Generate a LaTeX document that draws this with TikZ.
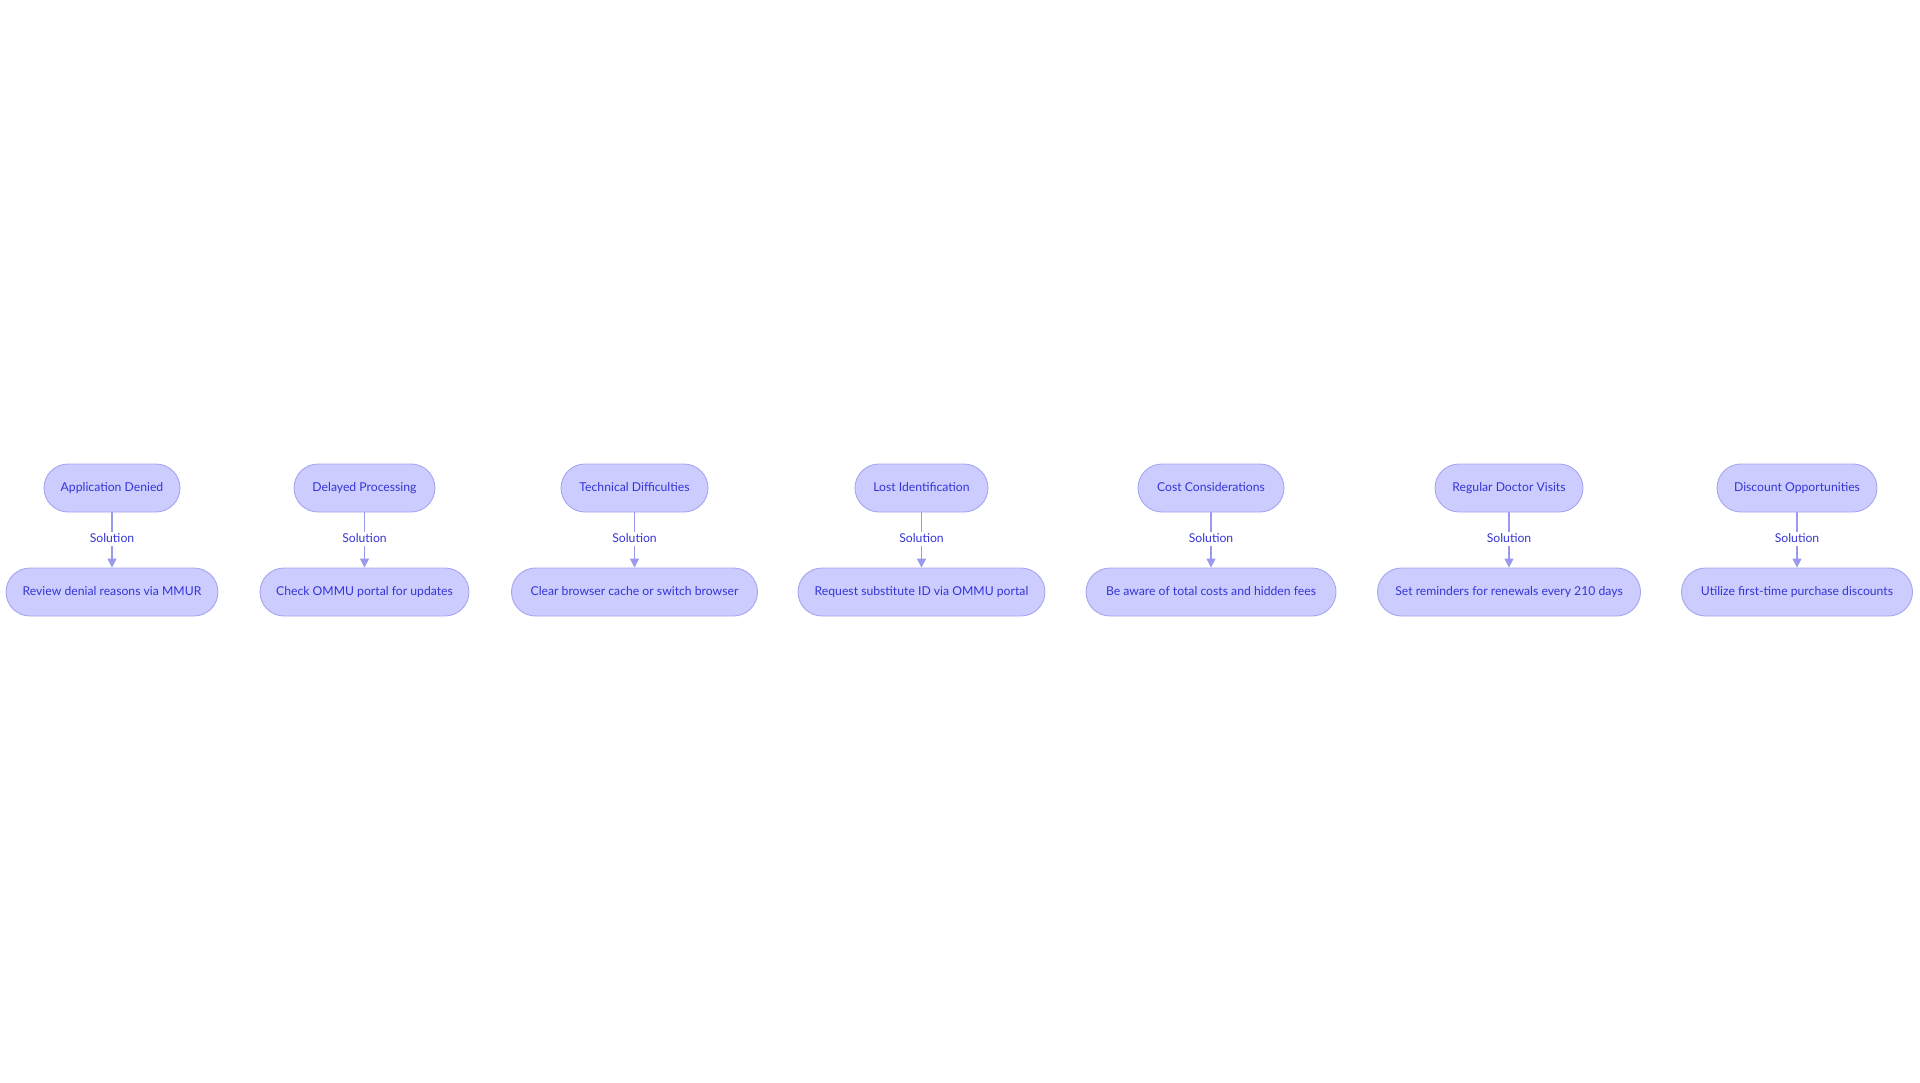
\documentclass[tikz,border=0pt]{standalone}
\usepackage{fontspec}
\setmainfont{Lato}
\usetikzlibrary{arrows.meta}
\definecolor{nodefill}{HTML}{CCCCFF}
\definecolor{nodeline}{HTML}{A6A6F2}
\definecolor{nodetext}{HTML}{3535D6}
\definecolor{edgecol}{HTML}{9A9AEC}
\tikzset{
  pill/.style={draw=nodeline, line width=0.9pt, fill=nodefill, rounded corners=24pt,
    minimum height=48pt, inner sep=0pt, text=nodetext, text height=8.8pt, text depth=2.6pt,
    font=\fontsize{12.2}{14}\selectfont},
  lbl/.style={fill=white, text=nodetext, inner sep=1.5pt, text height=8.8pt, text depth=2.6pt,
    font=\fontsize{12.2}{14}\selectfont},
  conn/.style={draw=edgecol, line width=1.5pt, -{Triangle[width=9pt,length=9pt]}},
}
\begin{document}
\begin{tikzpicture}[x=1pt,y=-1pt]
\useasboundingbox (0,0) rectangle (1920,1083);
% top row
\node[pill, minimum width=136pt] (a1) at (112,488) {Application Denied};
\node[pill, minimum width=141pt] (a2) at (364.5,488) {Delayed Processing};
\node[pill, minimum width=147pt] (a3) at (634.5,488) {Technical Difficulties};
\node[pill, minimum width=133pt] (a4) at (921.5,488) {Lost Identification};
\node[pill, minimum width=146pt] (a5) at (1211,488) {Cost Considerations};
\node[pill, minimum width=148pt] (a6) at (1509,488) {Regular Doctor Visits};
\node[pill, minimum width=160pt] (a7) at (1797,488) {Discount Opportunities};
% bottom row
\node[pill, minimum width=212pt] (b1) at (112,592) {Review denial reasons via MMUR};
\node[pill, minimum width=209pt] (b2) at (364.5,592) {Check OMMU portal for updates};
\node[pill, minimum width=246pt] (b3) at (634.5,592) {Clear browser cache or switch browser};
\node[pill, minimum width=247pt] (b4) at (921.5,592) {Request substitute ID via OMMU portal};
\node[pill, minimum width=250pt] (b5) at (1211,592) {Be aware of total costs and hidden fees};
\node[pill, minimum width=263pt] (b6) at (1509,592) {Set reminders for renewals every 210 days};
\node[pill, minimum width=231pt] (b7) at (1797,592) {Utilize first-time purchase discounts};
% connectors
\foreach \i in {1,...,7}{
  \draw[conn] (a\i.south) -- node[lbl, pos=0.48] {Solution} (b\i.north);
}
\end{tikzpicture}
\end{document}
